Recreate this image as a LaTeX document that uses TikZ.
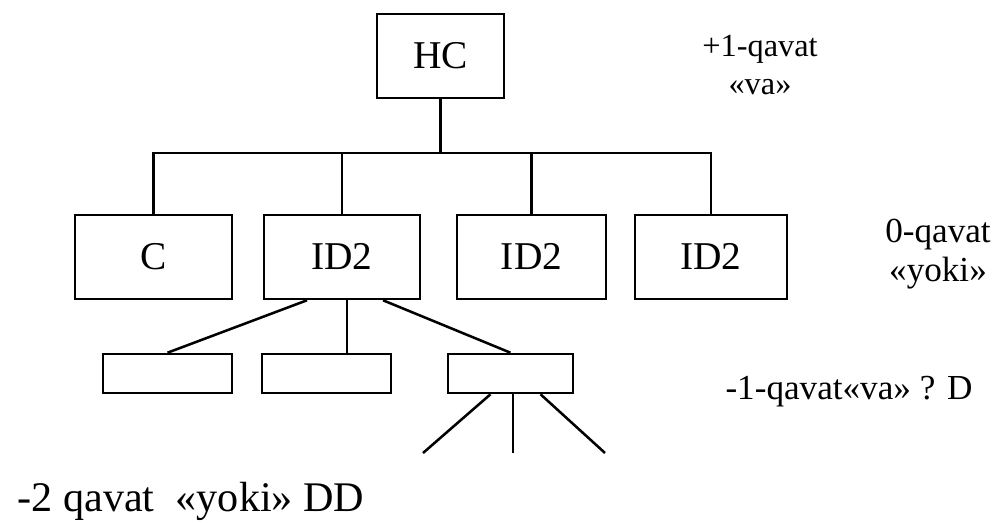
\documentclass[tikz,border=0pt]{standalone}
\usepackage{fontspec}
\setmainfont{Liberation Serif}
\usetikzlibrary{positioning,calc}
\tikzstyle{every node}=[text centered, inner sep=0pt]
\tikzstyle{unit}=[draw, line width=1.8pt, minimum height=2.1cm, font=\fontsize{28}{32}\selectfont]
\tikzstyle{subunit}=[draw, line width=1.8pt, minimum height=0.975cm]
\tikzstyle{level}=[anchor=base, font=\fontsize{23}{27}\selectfont]
\tikzstyle{line}=[draw, line width=1.8pt]

\begin{document}
\begin{tikzpicture}[x=0.025cm,y=-0.025cm,line join=miter]
    \useasboundingbox (0,0) rectangle (998,523);
    \coordinate (bus) at (0,153);

    % +1 level
    \node [unit, minimum width=3.175cm] (hc) at (440.5,56) {HC};

    % 0 level
    \node [unit, minimum width=3.925cm] (c) at (153.5,257) {C};
    \node [unit, minimum width=3.9cm] (idA) at (342,257) {ID2};
    \node [unit, minimum width=3.725cm] (idB) at (531.5,257) {ID2};
    \node [unit, minimum width=3.8cm] (idC) at (711,257) {ID2};

    % -1 level
    \node [subunit, minimum width=3.225cm] (subA) at (167.5,373.5) {};
    \node [subunit, minimum width=3.225cm] (subB) at (326.5,373.5) {};
    \node [subunit, minimum width=3.125cm] (subC) at (510.5,373.5) {};

    % -2 level, free ends
    \coordinate (leafA) at (423,453);
    \coordinate (leafB) at (513,453);
    \coordinate (leafC) at (605,453);

    \draw[line] (hc.south) -- (hc.south |- bus);
    \draw[line] (c.north) -- (c.north |- bus) -- (idC.north |- bus) -- (idC.north);
    \draw[line] (idA.north) -- (idA.north |- bus);
    \draw[line] (idB.north) -- (idB.north |- bus);

    \draw[line] ([xshift=-0.875cm]idA.south) -- (subA.north);
    \draw[line] ([xshift=0.125cm]idA.south) -- ([xshift=0.125cm]idA.south |- subB.north);
    \draw[line] ([xshift=1.025cm]idA.south) -- (subC.north);

    \draw[line] ([xshift=-0.5cm]subC.south) -- (leafA);
    \draw[line] (subC.south -| leafB) -- (leafB);
    \draw[line] ([xshift=0.75cm]subC.south) -- (leafC);

    \node [level] (lvlP) at (760,57) {+1-qavat};
    \node [level] (lvlPb) at (760,95) {«va»};
    \node [level, font=\fontsize{25}{30}\selectfont] (lvlZ) at (938,243) {0-qavat};
    \node [level, font=\fontsize{25}{30}\selectfont] (lvlZb) at (938,282) {«yoki»};
    \node [level, font=\fontsize{25}{30}\selectfont] (lvlM) at (849,400) {-1-qavat«va» ? D};
    \node [level, font=\fontsize{30}{35}\selectfont] (lvlMM) at (191,511) {-2 qavat \ «yoki» DD};

\end{tikzpicture}
\end{document}
